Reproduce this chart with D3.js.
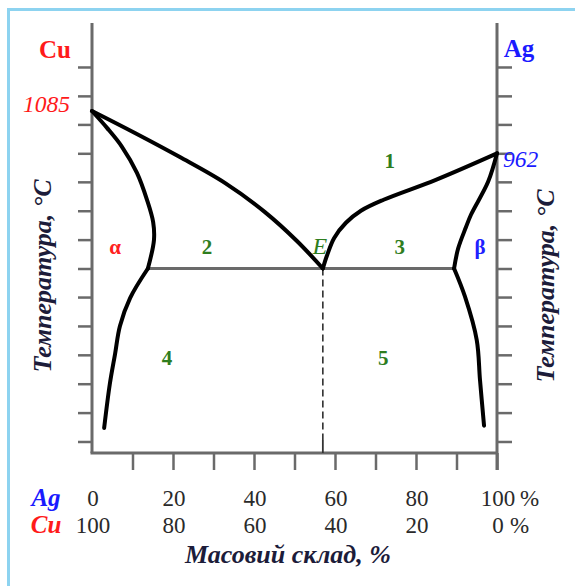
<!DOCTYPE html>
<html>
<head>
<meta charset="utf-8">
<script src="https://cdn.jsdelivr.net/npm/d3@7"></script>
<style>
  body { margin: 0; background: #fff; }
  svg text { font-family: "Liberation Serif", "Times New Roman", serif; }
</style>
</head>
<body>
<div id="chart"></div>
<script>
// composition, % Ag (Cu = 100 - Ag)
var agTicks   = [0, 20, 40, 60, 80, 100];
var cuLabels  = [100, 80, 60, 40, 20, 0];
var minorX    = [10, 20, 30, 40, 50, 60, 70, 80, 90, 100];

// temperature marks on both vertical axes, °C (schematic)
var tempTicks = [1213, 1129, 1046, 962, 879, 795, 711, 627, 544, 460, 376, 292, 208, 124];
var tMeltCu = 1085, tMeltAg = 962, tEut = 627, xEut = 57;

// phase boundaries: [% Ag, °C]
var liquidusCu = [[0, 1085], [10.6, 1021], [21.7, 951], [32.8, 876], [42.7, 791], [50.6, 707], [57, 627]];
var liquidusAg = [[57, 627], [58, 664], [59.8, 716], [62.7, 760], [66.4, 795], [72, 827], [84.9, 885], [100, 962]];
var solidusA   = [[0, 1085], [3.7, 1036], [7.4, 981], [11.1, 905], [13.6, 826], [15.1, 762], [15.3, 710], [13.8, 627]];
var solvusA    = [[13.8, 627], [9.4, 541], [6.9, 460], [5.7, 379], [4.4, 291], [3, 163]];
var solidusB   = [[100, 962], [97.8, 879], [93.6, 784], [92.3, 746], [90.4, 685], [89.4, 627]];
var solvusB    = [[89.4, 627], [92.1, 545], [95, 419], [95.8, 303], [96.8, 170]];

var regionLabels = [
  { t: "1", x: 73.5, T: 942, c: "#2e7d1e" },
  { t: "2", x: 28.4, T: 693, c: "#2e7d1e" },
  { t: "3", x: 76,   T: 693, c: "#2e7d1e" },
  { t: "4", x: 18.5, T: 369, c: "#2e7d1e" },
  { t: "5", x: 71.9, T: 369, c: "#2e7d1e" },
  { t: "α", x: 5.7,  T: 693, c: "#ff2020" },
  { t: "β", x: 95.8, T: 693, c: "#2020ff" }
];

var W = 575, H = 586;
var svg = d3.select('#chart').append('svg')
            .attr('width', W).attr('height', H);

// frame
svg.append('rect')
   .attr('x', 8.5).attr('y', 9.5)
   .attr('width', 640).attr('height', 640)
   .attr('fill', 'none')
   .attr('stroke', '#8dd3f0')
   .attr('stroke-width', 3);

var xScale = d3.scaleLinear().domain([0, 100]).range([92, 497]);
var yScale = d3.scaleLinear().domain([962, 1085]).range([153.3, 111]);

var yTop = 23, yBot = 453;
var axisColor = '#6a6a6a';

// left axis
var yAxisL = d3.axisLeft(yScale).tickValues(tempTicks).tickSize(14).tickFormat('');
var gL = svg.append('g').attr('transform', 'translate(' + xScale(0) + ',0)').call(yAxisL);
gL.select('.domain').remove();
gL.selectAll('line').attr('stroke', axisColor).attr('stroke-width', 2.5);
svg.append('line')
   .attr('x1', xScale(0)).attr('x2', xScale(0))
   .attr('y1', yTop).attr('y2', yBot)
   .attr('stroke', axisColor).attr('stroke-width', 3);

// right axis
var yAxisR = d3.axisRight(yScale).tickValues(tempTicks).tickSize(15).tickFormat('');
var gR = svg.append('g').attr('transform', 'translate(' + xScale(100) + ',0)').call(yAxisR);
gR.select('.domain').remove();
gR.selectAll('line').attr('stroke', axisColor).attr('stroke-width', 2.5);
svg.append('line')
   .attr('x1', xScale(100)).attr('x2', xScale(100))
   .attr('y1', yTop).attr('y2', yBot + 17)
   .attr('stroke', axisColor).attr('stroke-width', 3);

// bottom axis
var xAxis = d3.axisBottom(xScale).tickValues(minorX).tickSize(17).tickFormat('');
var gB = svg.append('g').attr('transform', 'translate(0,' + yBot + ')').call(xAxis);
gB.select('.domain').remove();
gB.selectAll('line').attr('stroke', axisColor).attr('stroke-width', 2.5);
svg.append('line')
   .attr('x1', xScale(0) - 1.5).attr('x2', xScale(100))
   .attr('y1', yBot).attr('y2', yBot)
   .attr('stroke', axisColor).attr('stroke-width', 3);

// eutectic horizontal
svg.append('line')
   .attr('x1', xScale(solidusA[solidusA.length - 1][0])).attr('x2', xScale(solidusB[solidusB.length - 1][0]))
   .attr('y1', yScale(tEut)).attr('y2', yScale(tEut))
   .attr('stroke', '#6a6a6a').attr('stroke-width', 3);

// eutectic vertical (dashed)
svg.append('line')
   .attr('x1', xScale(xEut)).attr('x2', xScale(xEut))
   .attr('y1', yScale(tEut)).attr('y2', yBot - 13)
   .attr('stroke', '#222').attr('stroke-width', 1.5)
   .attr('stroke-dasharray', '7,4');
svg.append('line')
   .attr('x1', xScale(xEut)).attr('x2', xScale(xEut))
   .attr('y1', yBot - 13).attr('y2', yBot)
   .attr('stroke', '#333').attr('stroke-width', 1.8);

// phase curves
var line = d3.line()
             .x(function(d) { return xScale(d[0]); })
             .y(function(d) { return yScale(d[1]); })
             .curve(d3.curveCatmullRom.alpha(0.5));

[liquidusCu, liquidusAg, solidusA, solvusA, solidusB, solvusB].forEach(function(c) {
    svg.append('path')
       .datum(c)
       .attr('d', line)
       .attr('fill', 'none')
       .attr('stroke', '#000')
       .attr('stroke-width', 4)
       .attr('stroke-linecap', 'round')
       .attr('stroke-linejoin', 'round');
});

// region labels
svg.selectAll('.region')
   .data(regionLabels)
   .enter().append('text')
   .attr('class', 'region')
   .attr('x', function(d) { return xScale(d.x); })
   .attr('y', function(d) { return yScale(d.T) + 8; })
   .attr('text-anchor', 'middle')
   .attr('font-size', 21)
   .attr('font-weight', 'bold')
   .attr('fill', function(d) { return d.c; })
   .text(function(d) { return d.t; });

svg.append('text')
   .attr('x', xScale(xEut) - 3).attr('y', yScale(tEut) - 15)
   .attr('text-anchor', 'middle')
   .attr('font-size', 24).attr('font-style', 'italic')
   .attr('fill', '#2e7d1e')
   .text('E');

// element names and melting points
svg.append('text').attr('x', 55).attr('y', 58).attr('text-anchor', 'middle')
   .attr('font-size', 25).attr('font-weight', 'bold').attr('fill', '#ff1a1a').text('Cu');
svg.append('text').attr('x', 519).attr('y', 57).attr('text-anchor', 'middle')
   .attr('font-size', 25).attr('font-weight', 'bold').attr('fill', '#1a1aff').text('Ag');
svg.append('text').attr('x', 70).attr('y', yScale(tMeltCu) + 1).attr('text-anchor', 'end')
   .attr('font-size', 23.5).attr('font-style', 'italic').attr('fill', '#ff1a1a').text(tMeltCu);
svg.append('text').attr('x', 503).attr('y', yScale(tMeltAg) + 14).attr('text-anchor', 'start')
   .attr('font-size', 23.5).attr('font-style', 'italic').attr('fill', '#1a1aff').text(tMeltAg);

// axis titles
var titleColor = '#1c1c3a';
svg.append('text')
   .attr('transform', 'translate(51,276) rotate(-90)')
   .attr('text-anchor', 'middle')
   .attr('font-size', 26).attr('font-style', 'italic').attr('font-weight', 'bold')
   .attr('fill', titleColor)
   .text('Температура, °С');
svg.append('text')
   .attr('transform', 'translate(554,286) rotate(-90)')
   .attr('text-anchor', 'middle')
   .attr('font-size', 26).attr('font-style', 'italic').attr('font-weight', 'bold')
   .attr('fill', titleColor)
   .text('Температура, °С');

// composition labels
svg.append('text').attr('x', 46).attr('y', 506).attr('text-anchor', 'middle')
   .attr('font-size', 25).attr('font-style', 'italic').attr('font-weight', 'bold')
   .attr('fill', '#1a1aff').text('Ag');
svg.append('text').attr('x', 46).attr('y', 533).attr('text-anchor', 'middle')
   .attr('font-size', 25).attr('font-style', 'italic').attr('font-weight', 'bold')
   .attr('fill', '#ff1a1a').text('Cu');

var labelColor = '#2a2a2a';
svg.selectAll('.agLab')
   .data(agTicks)
   .enter().append('text')
   .attr('class', 'agLab')
   .attr('x', function(d) { return xScale(d) + 1; })
   .attr('y', 506)
   .attr('text-anchor', 'middle')
   .attr('font-size', 23).attr('fill', labelColor)
   .text(function(d) { return d; });
svg.selectAll('.cuLab')
   .data(cuLabels)
   .enter().append('text')
   .attr('class', 'cuLab')
   .attr('x', function(d, i) { return xScale(agTicks[i]) + 1; })
   .attr('y', 533)
   .attr('text-anchor', 'middle')
   .attr('font-size', 23).attr('fill', labelColor)
   .text(function(d) { return d; });
svg.append('text').attr('x', xScale(100) + 23).attr('y', 506)
   .attr('font-size', 23).attr('fill', labelColor).text('%');
svg.append('text').attr('x', xScale(100) + 13).attr('y', 533)
   .attr('font-size', 23).attr('fill', labelColor).text('%');

svg.append('text')
   .attr('x', 288).attr('y', 563)
   .attr('text-anchor', 'middle')
   .attr('font-size', 26).attr('font-style', 'italic').attr('font-weight', 'bold')
   .attr('fill', titleColor)
   .text('Масовий склад, %');
</script>
</body>
</html>
